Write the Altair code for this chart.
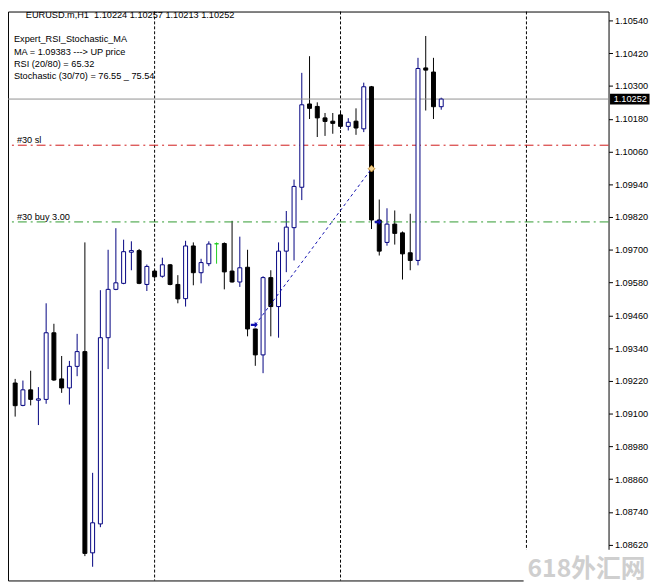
import altair as alt
import numpy as np
import pandas as pd

# ---- data (EURUSD.m, H1) ----
candle_index = list(range(56))
opens = [1.09212, 1.09130, 1.09187, 1.09149, 1.09152, 1.09396, 1.09227, 1.09194, 1.09273, 1.09327,
         1.08590, 1.08696, 1.09378, 1.09555, 1.09577, 1.09691, 1.09697, 1.09573, 1.09622, 1.09603,
         1.09645, 1.09573, 1.09521, 1.09714, 1.09616, 1.09649, 1.09722, 1.09723, 1.09622, 1.09582,
         1.09636, 1.09410, 1.09315, 1.09598, 1.09492, 1.09695, 1.09781, 1.09929, 1.10234, 1.10225,
         1.10183, 1.10171, 1.10194, 1.10152, 1.10171, 1.10143, 1.10297, 1.09809, 1.09727, 1.09794,
         1.09762, 1.09689, 1.09661, 1.10366, 1.10351, 1.10224]
highs = [1.09227, 1.09221, 1.09257, 1.09197, 1.09504, 1.09429, 1.09311, 1.09293, 1.09392, 1.09727,
         1.08883, 1.09552, 1.09700, 1.09779, 1.09737, 1.09731, 1.09703, 1.09646, 1.09627, 1.09671,
         1.09648, 1.09607, 1.09733, 1.09727, 1.09667, 1.09731, 1.09727, 1.09727, 1.09806, 1.09748,
         1.09700, 1.09411, 1.09603, 1.09625, 1.09727, 1.09842, 1.09957, 1.10348, 1.10409, 1.10240,
         1.10201, 1.10201, 1.10204, 1.10182, 1.10218, 1.10312, 1.10300, 1.09884, 1.09852, 1.09844,
         1.09767, 1.09832, 1.10403, 1.10483, 1.10403, 1.10257]
lows = [1.09089, 1.09127, 1.09130, 1.09058, 1.09136, 1.09220, 1.09176, 1.09133, 1.09237, 1.08578,
        1.08539, 1.08684, 1.09263, 1.09552, 1.09574, 1.09625, 1.09574, 1.09549, 1.09596, 1.09598,
        1.09570, 1.09504, 1.09492, 1.09570, 1.09577, 1.09640, 1.09649, 1.09555, 1.09580, 1.09564,
        1.09383, 1.09275, 1.09248, 1.09383, 1.09378, 1.09618, 1.09661, 1.09882, 1.10179, 1.10113,
        1.10117, 1.10125, 1.10143, 1.10137, 1.10121, 1.10131, 1.09776, 1.09679, 1.09715, 1.09719,
        1.09591, 1.09625, 1.09643, 1.10210, 1.10179, 1.10213]
closes = [1.09129, 1.09187, 1.09152, 1.09154, 1.09396, 1.09223, 1.09194, 1.09273, 1.09327, 1.08588,
          1.08700, 1.09378, 1.09555, 1.09579, 1.09693, 1.09697, 1.09577, 1.09639, 1.09601, 1.09645,
          1.09573, 1.09520, 1.09714, 1.09616, 1.09653, 1.09721, 1.09722, 1.09619, 1.09582, 1.09634,
          1.09410, 1.09315, 1.09598, 1.09492, 1.09695, 1.09783, 1.09932, 1.10231, 1.10218, 1.10183,
          1.10170, 1.10163, 1.10152, 1.10167, 1.10146, 1.10297, 1.09809, 1.09695, 1.09794, 1.09760,
          1.09685, 1.09661, 1.10364, 1.10358, 1.10224, 1.10252]

tick_values = [1.10540, 1.10420, 1.10300, 1.10180, 1.10060, 1.09940, 1.09820, 1.09700, 1.09580,
               1.09460, 1.09340, 1.09220, 1.09100, 1.08980, 1.08860, 1.08740, 1.08620]
separator_index = [18, 42, 66]
current_price = [1.10252]
sl_price = [1.10083]
buy_price = [1.09802]
trade_line_index = [31, 46]
trade_line_price = [1.09425, 1.09997]
open_arrow_index = [31, 47]
open_arrow_price = [1.09425, 1.09802]
close_mark_index = [46]
close_mark_price = [1.09997]

title_text = "EURUSD.m,H1\u00a0 1.10224 1.10257 1.10213 1.10252"
info_lines = ["Expert_RSI_Stochastic_MA", "MA = 1.09383 ---> UP price",
              "RSI (20/80) = 65.32", "Stochastic (30/70) = 76.55 _ 75.54"]

BULL = "#000080"
BEAR = "#000000"
DOJI = "#22cc22"
FONT = "Liberation Sans"

df = pd.DataFrame({"i": candle_index, "open": opens, "high": highs,
                   "low": lows, "close": closes})
df["dir"] = np.where(df["close"] > df["open"], "bull",
                     np.where(df["close"] < df["open"], "bear", "doji"))

xs = alt.Scale(domain=[-0.2875, 75.9625], nice=False, zero=False)
ys = alt.Scale(domain=[1.084888, 1.105726], nice=False, zero=False)
dirs = ["bull", "bear", "doji"]


def yaxis():
    return alt.Axis(orient="right", values=tick_values, format=".5f", grid=False,
                    domain=False, ticks=True, tickSize=4, tickColor="black",
                    labelColor="black", labelFont=FONT, labelFontSize=9.3,
                    labelPadding=2, title=None, labelOverlap=False)


def Y(field):
    return alt.Y(field, scale=ys, axis=yaxis())


def X(field):
    return alt.X(field, scale=xs, axis=None)


base = alt.Chart(df)

wicks = base.mark_rule(strokeWidth=1).encode(
    x=X("i:Q"),
    y=Y("low:Q"),
    y2="high:Q",
    color=alt.Color("dir:N", scale=alt.Scale(domain=dirs, range=[BULL, BEAR, DOJI]), legend=None),
)

bodies = base.mark_bar(size=4, strokeWidth=1).encode(
    x=X("i:Q"),
    y=Y("open:Q"),
    y2="close:Q",
    fill=alt.Fill("dir:N", scale=alt.Scale(domain=dirs, range=["#ffffff", BEAR, DOJI]), legend=None),
    stroke=alt.Stroke("dir:N", scale=alt.Scale(domain=dirs, range=[BULL, BEAR, DOJI]), legend=None),
)

seps = alt.Chart(pd.DataFrame({"i": separator_index})).mark_rule(
    color="black", strokeWidth=1, strokeDash=[3, 2]
).encode(x=X("i:Q"))

price_line = alt.Chart(pd.DataFrame({"p": current_price})).mark_rule(
    color="#909090", strokeWidth=1
).encode(y=Y("p:Q"))

sl_line = alt.Chart(pd.DataFrame({"p": sl_price})).mark_rule(
    color="#d01818", strokeWidth=1, strokeDash=[9, 4, 2, 4]
).encode(y=Y("p:Q"))

buy_line = alt.Chart(pd.DataFrame({"p": buy_price})).mark_rule(
    color="#2e9a2e", strokeWidth=1, strokeDash=[9, 4, 2, 4]
).encode(y=Y("p:Q"))

trade = alt.Chart(pd.DataFrame({"i": trade_line_index, "p": trade_line_price})).mark_line(
    color="#1010b0", strokeWidth=1, strokeDash=[3, 3]
).encode(x=X("i:Q"), y=Y("p:Q"))

arrow_path = "M-1,-0.35L0.1,-0.35L0.1,-0.9L1,0L0.1,0.9L0.1,0.35L-1,0.35Z"
arrows = alt.Chart(pd.DataFrame({"i": open_arrow_index, "p": open_arrow_price})).mark_point(
    shape=arrow_path, filled=True, color="#1010b0", size=50, opacity=1, xOffset=-1
).encode(x=X("i:Q"), y=Y("p:Q"))

close_mark = alt.Chart(pd.DataFrame({"i": close_mark_index, "p": close_mark_price})).mark_point(
    shape="diamond", filled=True, fill="#f0d090", stroke="#c08a30", strokeWidth=1,
    size=45, opacity=1
).encode(x=X("i:Q"), y=Y("p:Q"))

box_path = "M-1,-0.27L1,-0.27L1,0.27L-1,0.27Z"
price_box = alt.Chart(pd.DataFrame({"p": current_price})).mark_point(
    shape=box_path, filled=True, color="black", size=1600, opacity=1
).encode(x=alt.value(629.5), y=Y("p:Q"))

price_box_text = alt.Chart(pd.DataFrame({"p": current_price, "t": ["1.10252"]})).mark_text(
    color="white", font=FONT, fontSize=9.3, align="center", baseline="middle"
).encode(x=alt.value(630), y=Y("p:Q"), text="t:N")

# white patch under the watermark (as in the reference screenshot)
wm_patch = alt.Chart(pd.DataFrame({"t": ["wm"]})).mark_rect(color="white", opacity=1).encode(
    x=alt.value(522), x2=alt.value(653), y=alt.value(545), y2=alt.value(578)
)


def label(text, x, y, size=9.3, color="black", font=FONT, weight="normal"):
    return alt.Chart(pd.DataFrame({"t": [text]})).mark_text(
        align="left", baseline="alphabetic", font=font, fontSize=size,
        color=color, fontWeight=weight
    ).encode(x=alt.value(x), y=alt.value(y), text="t:N")


texts = [label(title_text, 18, 7)]
for line, yy in zip(info_lines, [30.5, 44, 56, 68]):
    texts.append(label(line, 6, yy))
texts.append(label("#30 sl", 9, 133))
texts.append(label("#30 buy 3.00", 9, 211))
texts.append(label("618外汇网", 526, 572, size=25, color="#cfcfcf",
                   font="Noto Sans CJK SC", weight="bold"))

chart = alt.layer(
    wicks, seps, price_line, sl_line, buy_line, bodies, trade, arrows, close_mark,
    price_box, price_box_text, wm_patch, *texts
).properties(
    width=608, height=576,
    autosize=alt.AutoSizeParams(type="none"),
    padding={"left": 0, "top": 0, "right": 45, "bottom": 0},
    background="white",
).configure_view(stroke="black", strokeWidth=1)

chart.save("out.html", embed_options={"renderer": "svg", "actions": False})
